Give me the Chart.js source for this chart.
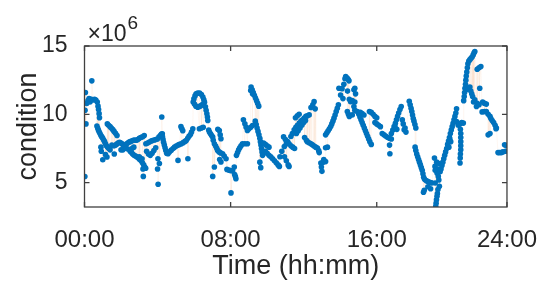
<!DOCTYPE html>
<html>
<head>
<meta charset="utf-8">
<script src="https://cdn.jsdelivr.net/npm/chart.js@4.4.0/dist/chart.umd.min.js"></script>
<style>
  html, body { margin: 0; padding: 0; background: #fff; }
  #wrap { width: 550px; height: 289px; }
</style>
</head>
<body>
<div id="wrap"><canvas id="chart" width="550" height="289"></canvas></div>
<script>
// readings as [hour of day, condition in millions]
const nightReadings = [
  [0.02,5.45],[0.03,10.3],[0.05,11.6],[0.08,9.3],[0.12,10.8],[0.19,11.0],[0.25,11.15],[0.3,10.9],[0.38,11.1],[0.4,12.45],
  [0.48,11.05],[0.55,11.1],[0.62,11.05],[0.7,10.9],[0.74,10.6],[0.77,10.35],[0.8,10.05],[0.82,9.75],
  [0.68,9.15],[0.72,9.0],[0.76,8.85],[0.8,8.72],[0.85,8.6],[0.9,8.45],[0.95,8.35],[1.0,8.25],[1.05,8.12],[1.1,8.0],
  [1.15,7.85],[1.2,7.7],[1.27,7.6],[1.33,7.5],[1.4,7.4],
  [0.9,7.6],[0.92,7.3],[1.0,6.68],[1.23,6.88],[1.15,7.05],
  [1.25,9.3],[1.32,9.2],[1.4,9.1],[1.47,9.0],[1.55,8.88],[1.62,8.75],[1.7,8.62],[1.78,8.45],
  [1.63,7.1],
  [1.5,7.75],[1.58,7.7],[1.66,7.72],[1.75,7.8],[1.83,7.9],[1.92,7.95],[2.0,7.9],[2.08,7.82],[2.16,7.75],[2.25,7.78],
  [2.33,7.86],[2.42,7.95],[2.5,8.0],[2.58,8.05],[2.67,8.1],[2.75,8.12],[2.83,8.1],[2.92,8.15],[3.0,8.25],[3.08,8.3],
  [3.17,8.35],[3.27,8.45],
  [2.0,7.4],[2.1,7.4],[2.2,7.6],[2.3,7.5],[2.4,7.45],[2.6,7.5],[2.7,7.6],
  [2.5,7.3],[2.57,7.2],[2.64,7.1],[2.72,7.0],[2.8,6.95],[2.88,6.88],[2.95,6.8],[3.02,6.7],[3.1,6.6],[3.17,6.45],
  [3.24,6.3],[3.3,6.15],[3.35,6.05],[3.0,6.9],[3.15,6.75],[3.22,5.46],[3.2,6.0],
  [3.4,7.3],[3.5,7.1],[3.6,7.0],[3.7,7.15],[3.8,7.35],[3.9,7.55],
  [3.36,7.85],[3.45,7.9],[3.55,7.98],[3.65,8.05],[3.72,8.09],[3.82,8.12],[3.9,8.16],[3.99,8.2],[4.08,8.35],[4.17,8.48],[4.26,8.58],
  [4.23,9.8],
  [4.22,8.55],[4.27,8.35],[4.3,8.15],[4.33,7.95],[4.37,7.75],[4.41,7.55],[4.45,7.35],[4.5,7.15],
  [4.03,4.88],[4.0,6.0],[4.02,6.75],[4.1,6.4],
  [4.57,7.12],[4.65,7.25],[4.75,7.38],[4.85,7.5],[4.93,7.6],[5.02,7.68],[5.12,7.75],[5.2,7.8],[5.3,7.85],[5.4,7.93],
  [5.5,8.02],[5.57,8.09],[5.65,8.25],[5.72,8.4],[5.8,8.52],[5.86,8.7],[5.93,8.94],
  [5.12,6.63],[5.66,6.75],
  [5.28,9.1],[5.33,8.95],[5.38,8.8]
];

const morningReadings = [
  [5.95,10.9],[5.99,11.13],[6.05,11.35],[6.11,11.5],[6.2,11.55],[6.3,11.55],[6.4,11.45],[6.48,11.26],[6.53,11.08],[6.57,10.89],
  [6.48,10.75],[6.38,10.64],[6.3,10.58],[6.2,10.52],[6.1,10.6],[6.02,10.75],[6.62,10.55],[6.66,10.3],[6.7,10.04],[6.73,9.8],[6.75,9.55],
  [6.29,8.94],[6.4,9.0],[6.5,9.05],
  [6.8,8.85],[6.84,8.7],[6.9,8.58],[6.96,8.45],[7.02,8.34],[7.3,8.9],[7.38,8.82],[7.43,8.5],[7.47,8.21],[7.05,8.1],
  [7.11,7.85],[7.18,7.68],[7.24,7.52],[7.29,7.36],[7.37,7.25],[7.45,7.18],[7.56,7.12],[7.65,6.95],[7.75,6.75],[7.47,6.51],[7.4,6.7],
  [7.11,6.15],[7.02,5.46],
  [7.8,5.97],[7.9,5.92],[8.0,5.88],[8.11,5.85],[8.2,6.15],[8.22,5.6],[8.26,5.45],[8.29,5.29],
  [8.02,4.25],
  [8.32,7.0],[8.38,7.2],[8.44,7.4],[8.5,7.55],[8.57,7.7],[8.65,7.85],[8.78,7.85],[8.92,7.85],
  [8.7,9.6],[8.78,9.31],[8.85,9.05],[8.92,8.82],[9.0,8.95],[9.1,9.05],[9.2,9.18],
  [9.12,12.0],[9.18,11.8],[9.24,11.6],[9.3,11.4],[9.36,11.2],[9.42,11.0],[9.48,10.8],[9.54,10.6],[9.1,11.74],[9.2,11.5],
  [9.35,9.5],[9.4,9.25],[9.45,9.0],[9.5,8.75],[9.55,8.5],[9.6,8.25],[9.63,8.0],[9.66,7.75],[9.69,7.5],[9.72,7.25],[9.75,7.0],
  [9.6,6.5],[9.65,6.1],
  [9.8,7.9],[9.9,7.8],[10.0,7.7],[10.1,7.6],
  [9.9,7.3],[10.0,7.15],[10.1,7.0],[10.2,6.9],[10.3,6.75],[10.4,6.6],[10.5,6.45],[10.6,6.3],[10.67,6.19],
  [10.7,6.9],[10.8,7.3],[10.94,7.65],[11.05,7.85],[11.12,8.0],[10.9,8.35],[11.0,8.15],
  [10.95,6.9],[11.05,6.6],[11.15,6.3],[11.2,6.19],
  [11.2,7.85],[11.3,7.7],[11.4,7.6],[11.5,7.5],
  [11.3,8.38],[11.38,8.6],[11.48,8.87],[11.57,9.05],[11.66,9.2],[11.76,9.36],[11.85,9.5],[11.94,9.6],[12.03,9.72],
  [11.6,8.6],[11.7,8.8],[11.8,9.0],[11.9,9.2],[12.0,9.4],[12.1,9.55],
  [11.55,9.75],[11.65,9.9],[11.75,10.0]
];

const afternoonReadings = [
  [12.12,9.85],[12.2,9.9],[12.3,9.96],[12.4,10.5],[12.5,10.7],[12.57,10.93],[12.63,10.4],
  [12.05,8.3],[12.15,8.1],[12.2,8.0],[12.3,7.92],[12.4,7.85],[12.48,7.77],[12.57,7.68],[12.66,7.6],[12.75,7.53],[12.82,7.35],[12.85,7.2],
  [12.94,6.44],[12.97,6.15],[13.0,5.83],[13.06,6.5],[13.1,6.7],[13.2,6.54],[13.2,7.55],[13.3,7.6],
  [13.2,8.5],[13.27,8.65],[13.34,8.8],[13.41,8.95],[13.48,9.11],[13.54,9.3],[13.6,9.5],[13.66,9.72],[13.72,9.95],[13.78,10.2],[13.84,10.45],[13.9,10.7],
  [13.93,11.91],[14.02,11.42],[14.1,11.88],[14.15,11.15],[14.2,12.2],[14.26,12.6],[14.3,12.76],[14.38,12.65],[14.44,12.55],[14.48,12.45],
  [14.4,11.7],[14.5,11.1],[14.57,10.93],[14.66,11.0],[14.75,11.8],[14.8,11.9],[14.84,11.5],[14.8,10.9],[14.75,10.57],[14.8,10.3],
  [14.39,10.2],[14.45,10.0],[14.5,9.85],[14.66,9.96],[14.93,10.2],
  [15.02,10.0],[15.08,9.8],[15.14,9.6],[15.2,9.4],[15.26,9.2],[15.32,9.0],[15.38,8.8],[15.44,8.6],[15.5,8.4],[15.56,8.2],[15.62,8.0],[15.7,7.8],
  [15.1,10.15],[15.2,10.05],[15.3,9.95],
  [15.6,10.2],[15.7,10.15],[15.8,10.0],[15.9,9.85],[16.0,9.75],
  [15.9,9.4],[16.0,9.3],[16.1,9.2],[16.2,9.1],
  [16.3,8.6],[16.4,8.5],[16.5,8.4],[16.6,8.3],[16.7,8.25],[16.8,8.2],
  [16.7,7.75],[16.72,7.12],
  [16.8,8.6],[16.88,8.85],[16.95,9.1],[17.02,9.35],[17.08,9.6],[17.14,9.85],[17.2,10.1],[17.27,10.35],[17.34,10.57],
  [17.0,9.1],[17.1,8.9],[17.4,9.6],[17.45,9.3],[17.5,8.87],[17.55,9.0],[17.6,8.7],
  [17.78,10.95],[17.83,10.7],[17.88,10.45],[17.92,10.2],[17.96,9.95],[18.0,9.7],[18.04,9.5],[18.09,9.25],[18.14,9.0]
];

const eveningReadings = [
  [18.1,7.6],[18.14,7.35],[18.19,7.1],[18.24,6.9],[18.29,6.7],[18.34,6.5],[18.39,6.3],[18.44,6.1],[18.49,5.9],[18.53,5.65],
  [18.57,5.4],[18.62,5.25],[18.7,5.15],[18.78,5.1],[18.86,5.05],[18.95,5.0],[19.02,4.98],
  [18.56,4.3],[18.6,4.44],[18.95,4.55],[18.8,4.7],
  [19.16,6.8],[19.19,6.19],[19.2,5.9],[19.2,4.98],[19.23,3.27],[19.25,3.5],[19.27,3.75],[19.3,4.0],[19.32,4.2],[19.35,4.5],
  [19.37,5.46],[19.4,5.2],[19.41,6.4],[19.43,4.74],[19.3,5.7],[19.28,6.5],[19.35,6.0],
  [19.47,5.8],[19.52,6.0],[19.57,6.25],[19.62,6.5],[19.67,6.75],[19.72,7.0],[19.77,7.25],[19.83,7.5],[19.88,7.8],[19.93,8.05],
  [19.98,8.3],[20.03,8.6],[20.08,8.85],[20.13,9.1],[20.18,9.35],[20.23,9.6],[20.28,9.85],[20.33,10.1],[20.37,10.4],
  [20.0,8.2],[20.05,8.0],[19.95,7.6],
  [20.37,9.47],[20.46,9.2],[20.55,9.3],[20.65,9.4],[20.74,9.36],
  [20.58,8.9],[20.6,8.6],[20.6,8.3],[20.6,8.0],[20.6,7.7],[20.6,7.41],[20.58,7.1],[20.57,6.8],[20.56,6.44],
  [20.76,11.0],[20.79,11.3],[20.81,11.6],[20.83,11.9],[20.86,12.2],[20.88,12.5],[20.9,12.8],[20.93,13.1],[20.96,13.4],[20.99,13.7],
  [21.04,13.9],[21.1,14.0],[21.16,14.1],[21.22,14.2],[21.28,14.35],[21.33,14.5],[21.37,14.6],
  [20.9,11.8],[21.0,11.9],[21.1,12.0],[21.2,11.5],[21.15,11.7],[21.25,11.3],[21.37,11.06],[21.46,10.57],
  [21.5,13.3],[21.6,13.4],[21.7,13.5],[21.64,11.91],
  [21.3,10.9],[21.5,10.8],[21.6,10.7],[21.8,10.9],[21.9,10.8],[22.0,10.75],
  [21.77,10.18],[21.9,10.2],[22.0,10.2],[22.1,10.0],[22.2,9.85],[22.25,9.7],[22.32,9.55],[22.4,9.4],[22.48,9.2],[22.55,9.0],
  [22.1,8.5],[22.2,8.6],[22.53,8.94],
  [22.64,7.2],[22.72,7.2],[22.82,7.2],[22.9,7.25],[23.0,7.77],[23.09,7.72],[23.05,7.3]
];

const xTickHours = [0, 8, 16, 23.13];
const xTickLabels = ['00:00', '08:00', '16:00', '24:00'];
const yTickValues = [5, 10, 15];
const yMin = 3.22;
const yMax = 15;
const exponentLabel = '6';

const FONT = '"Liberation Sans", Arial, Helvetica, sans-serif';
const TEXT = '#262626';

const readings = [].concat(nightReadings, morningReadings, afternoonReadings, eveningReadings);
const points = readings.map(r => ({ x: r[0], y: r[1] }));
const trace = points.slice().sort((a, b) => a.x - b.x);

// MATLAB-like box, inward ticks and the x10^6 multiplier
const matlabAxes = {
  id: 'matlabAxes',
  afterDatasetsDraw(chart) {
    const { ctx, chartArea: a, scales: { x, y } } = chart;
    ctx.save();
    ctx.strokeStyle = '#404040';
    ctx.lineWidth = 1.3;
    ctx.strokeRect(a.left, a.top, a.right - a.left, a.bottom - a.top);
    ctx.beginPath();
    xTickHours.forEach(h => {
      const px = x.getPixelForValue(h);
      ctx.moveTo(px, a.bottom); ctx.lineTo(px, a.bottom - 5);
      ctx.moveTo(px, a.top); ctx.lineTo(px, a.top + 5);
    });
    yTickValues.forEach(v => {
      const py = y.getPixelForValue(v);
      ctx.moveTo(a.left, py); ctx.lineTo(a.left + 5, py);
      ctx.moveTo(a.right, py); ctx.lineTo(a.right - 5, py);
    });
    ctx.stroke();

    ctx.fillStyle = TEXT;
    ctx.textBaseline = 'alphabetic';
    ctx.textAlign = 'left';
    ctx.font = '23px ' + FONT;
    ctx.fillText('\u00d710', a.left + 3, a.top - 5.5);
    const w = ctx.measureText('\u00d710').width;
    ctx.font = '19px ' + FONT;
    ctx.fillText(exponentLabel, a.left + 4 + w, a.top - 17);
    ctx.restore();
  }
};

new Chart(document.getElementById('chart'), {
  type: 'scatter',
  data: {
    datasets: [{
      type: 'scatter',
      data: points,
      backgroundColor: '#0072BD',
      borderWidth: 0,
      pointRadius: 2.8,
      order: 1
    }, {
      type: 'line',
      data: trace,
      borderColor: 'rgba(240,170,110,0.09)',
      borderWidth: 1,
      pointRadius: 0,
      fill: false,
      order: 2
    }]
  },
  options: {
    responsive: false,
    animation: false,
    devicePixelRatio: 1,
    layout: { padding: { left: 0, right: 41, top: 46, bottom: 0 } },
    plugins: { legend: { display: false }, tooltip: { enabled: false } },
    scales: {
      x: {
        type: 'linear',
        min: 0,
        max: xTickHours[xTickHours.length - 1],
        afterBuildTicks: s => { s.ticks = xTickHours.map(v => ({ value: v })); },
        afterFit: s => { s.height = 82; },
        grid: { display: false },
        border: { display: false },
        ticks: {
          autoSkip: false,
          maxRotation: 0,
          padding: 13,
          color: TEXT,
          font: { family: FONT, size: 24, lineHeight: 1 },
          callback: (v, i) => xTickLabels[i]
        },
        title: {
          display: true,
          text: 'Time (hh:mm)',
          color: TEXT,
          font: { family: FONT, size: 27, lineHeight: 1 },
          padding: { top: 0, bottom: 9 }
        }
      },
      y: {
        min: yMin,
        max: yMax,
        afterBuildTicks: s => { s.ticks = yTickValues.map(v => ({ value: v })); },
        afterFit: s => { s.width = 84.5; },
        grid: { display: false },
        border: { display: false },
        ticks: {
          padding: 9,
          color: TEXT,
          font: { family: FONT, size: 23, lineHeight: 1 },
          callback: v => String(v)
        },
        title: {
          display: true,
          text: 'condition',
          color: TEXT,
          font: { family: FONT, size: 27, lineHeight: 1 },
          padding: { top: 15, bottom: 0 }
        }
      }
    }
  },
  plugins: [matlabAxes]
});
</script>
</body>
</html>
